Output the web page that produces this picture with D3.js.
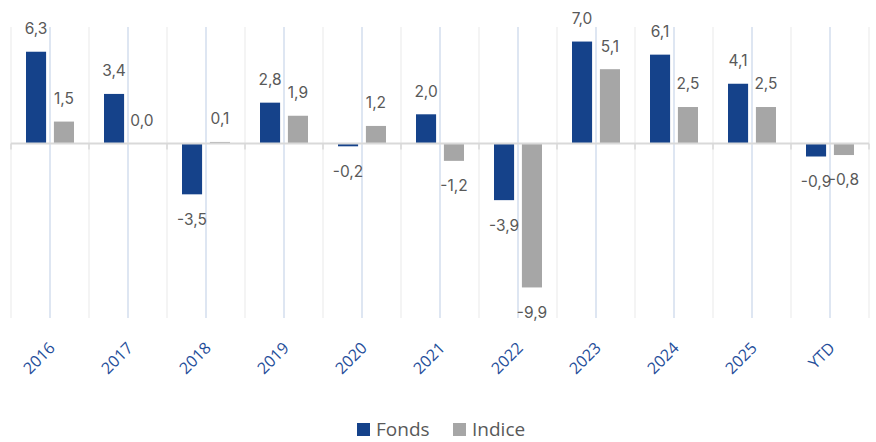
<!DOCTYPE html>
<html>
<head>
<meta charset="utf-8">
<script src="https://cdn.jsdelivr.net/npm/d3@7"></script>
<style>
  body { margin: 0; background: #fff; }
</style>
</head>
<body>
<div id="chart"></div>
<script>
const categories = ["2016", "2017", "2018", "2019", "2020", "2021", "2022", "2023", "2024", "2025", "YTD"];
const fonds = [6.3, 3.4, -3.5, 2.8, -0.2, 2.0, -3.9, 7.0, 6.1, 4.1, -0.9];
const indice = [1.5, 0.0, 0.1, 1.9, 1.2, -1.2, -9.9, 5.1, 2.5, 2.5, -0.8];
const seriesNames = ["Fonds", "Indice"];
const seriesColors = ["#15428A", "#A6A6A6"];

const width = 876, height = 442;
const svg = d3.select("#chart").append("svg")
    .attr("width", width).attr("height", height);

const x = d3.scaleBand().domain(categories).range([11, 869]).paddingInner(0);
const y = d3.scaleLinear().domain([-12, 8]).range([318, 27]);

// bars within a category, around its center
const half = 24;
const x1 = d3.scaleBand().domain(seriesNames)
    .range([x.bandwidth() / 2 - half, x.bandwidth() / 2 + half])
    .paddingInner(0.28);

// gridlines: faint at category edges, light blue at centers
const edges = categories.map(c => x(c)).concat([x.range()[1]]);
svg.append("g").selectAll("line")
  .data(edges)
  .join("line")
    .attr("x1", d => d).attr("x2", d => d)
    .attr("y1", y.range()[1]).attr("y2", y.range()[0])
    .attr("stroke", "#F1F1F1").attr("stroke-width", 1.5);

svg.append("g").selectAll("line")
  .data(categories)
  .join("line")
    .attr("x1", d => x(d) + x.bandwidth() / 2).attr("x2", d => x(d) + x.bandwidth() / 2)
    .attr("y1", y.range()[1]).attr("y2", y.range()[0])
    .attr("stroke", "#D3DEEE").attr("stroke-width", 1.5);

const rows = categories.map((c, i) => ({cat: c, values: [
  {s: "Fonds", v: fonds[i]}, {s: "Indice", v: indice[i]}
]}));

const groups = svg.append("g").selectAll("g")
  .data(rows)
  .join("g")
    .attr("transform", d => `translate(${x(d.cat)},0)`);

groups.selectAll("rect")
  .data(d => d.values)
  .join("rect")
    .attr("x", d => x1(d.s))
    .attr("width", x1.bandwidth())
    .attr("y", d => y(Math.max(0, d.v)))
    .attr("height", d => Math.abs(y(d.v) - y(0)))
    .attr("fill", (d, i) => seriesColors[i]);

// zero axis
const axis = svg.append("g").attr("transform", `translate(0,${y(0)})`);
axis.append("line")
    .attr("x1", x.range()[0]).attr("x2", x.range()[1])
    .attr("stroke", "#D9D9D9").attr("stroke-width", 2);
axis.selectAll(".tick")
  .data(edges)
  .join("line")
    .attr("x1", d => d).attr("x2", d => d)
    .attr("y1", 0).attr("y2", 6)
    .attr("stroke", "#D9D9D9").attr("stroke-width", 1.5);

// data labels
const fmt = v => v.toFixed(1).replace(".", ",");
groups.selectAll("text")
  .data(d => d.values)
  .join("text")
    .attr("x", d => x1(d.s) + x1.bandwidth() / 2)
    .attr("y", d => d.v >= 0 ? y(d.v) - 23 : y(d.v) + 25)
    .attr("dy", "0.35em")
    .attr("text-anchor", "middle")
    .attr("font-family", "Inter, 'Noto Sans', sans-serif")
    .attr("font-size", 15.5)
    .attr("fill", "#595959")
    .text(d => fmt(d.v));

// category labels
svg.append("g").selectAll("text")
  .data(categories)
  .join("text")
    .attr("transform", d => `translate(${x(d) + x.bandwidth() / 2 + 6},349) rotate(-45)`)
    .attr("text-anchor", "end")
    .attr("font-family", "'Open Sans', sans-serif")
    .attr("font-size", 16)
    .attr("fill", "#1F4E9A")
    .text(d => d);

// legend
const legendItems = [{name: "Fonds", x: 357}, {name: "Indice", x: 453}];
const legend = svg.append("g").selectAll("g")
  .data(legendItems)
  .join("g")
    .attr("transform", d => `translate(${d.x},423)`);
legend.append("rect")
    .attr("width", 13).attr("height", 13)
    .attr("fill", (d, i) => seriesColors[i]);
legend.append("text")
    .attr("x", 19).attr("y", 13)
    .attr("font-family", "'Open Sans', sans-serif")
    .attr("font-size", 19)
    .attr("fill", "#595959")
    .text(d => d.name);
</script>
</body>
</html>
